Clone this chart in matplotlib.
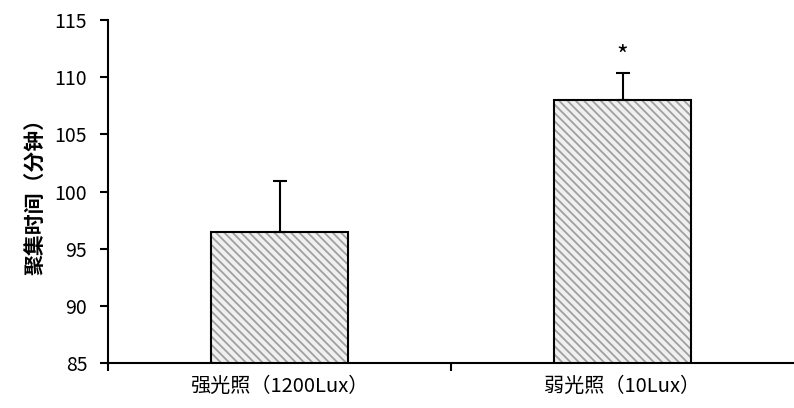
import matplotlib.pyplot as plt

plt.rcParams['font.family'] = ['Noto Sans CJK SC', 'DejaVu Sans']
plt.rcParams['hatch.linewidth'] = 1.3

categories = ['强光照（1200Lux）', '弱光照（10Lux）']
values = [96.5, 108.0]
errors = [4.4, 2.4]
marks = ['', '*']

fig = plt.figure(figsize=(7.94, 4.08), dpi=100)
ax = fig.add_axes([108 / 794, 45 / 408, 686 / 794, 343 / 408])

x = [0, 1]
ax.bar(x, values, width=0.40, color='#f0f0f0', edgecolor='#a0a0a0', linewidth=0,
       hatch='\\\\\\\\', zorder=2)
ax.bar(x, values, width=0.40, fill=False, edgecolor='black', linewidth=1.5, zorder=3)
ax.errorbar(x, values, yerr=[[0, 0], errors], fmt='none', ecolor='black',
            elinewidth=1.5, capsize=5, capthick=1.5, zorder=3)
for xi, v, e, m in zip(x, values, errors, marks):
    if m:
        ax.text(xi, v + e + 0.2, m, ha='center', va='bottom', fontsize=18)

ax.set_ylim(85, 115)
ax.set_yticks(range(85, 116, 5))
ax.set_xlim(-0.5, 1.5)
ax.set_xticks([-0.5, 0.5])
ax.set_xticklabels([])
ax.set_xticks(x, minor=True)
ax.set_xticklabels(categories, minor=True, fontsize=14.5)
ax.tick_params(axis='x', which='major', length=6, width=1.5, direction='out')
ax.tick_params(axis='x', which='minor', length=0, pad=9)
ax.tick_params(axis='y', length=6, width=1.5, direction='out', labelsize=14, pad=9)

for s in ['top', 'right']:
    ax.spines[s].set_visible(False)
for s in ['left', 'bottom']:
    ax.spines[s].set_linewidth(1.5)

ax.set_ylabel('聚集时间（分钟）', fontsize=15, fontweight='bold', labelpad=6)

fig.savefig('out.png', dpi=100)
